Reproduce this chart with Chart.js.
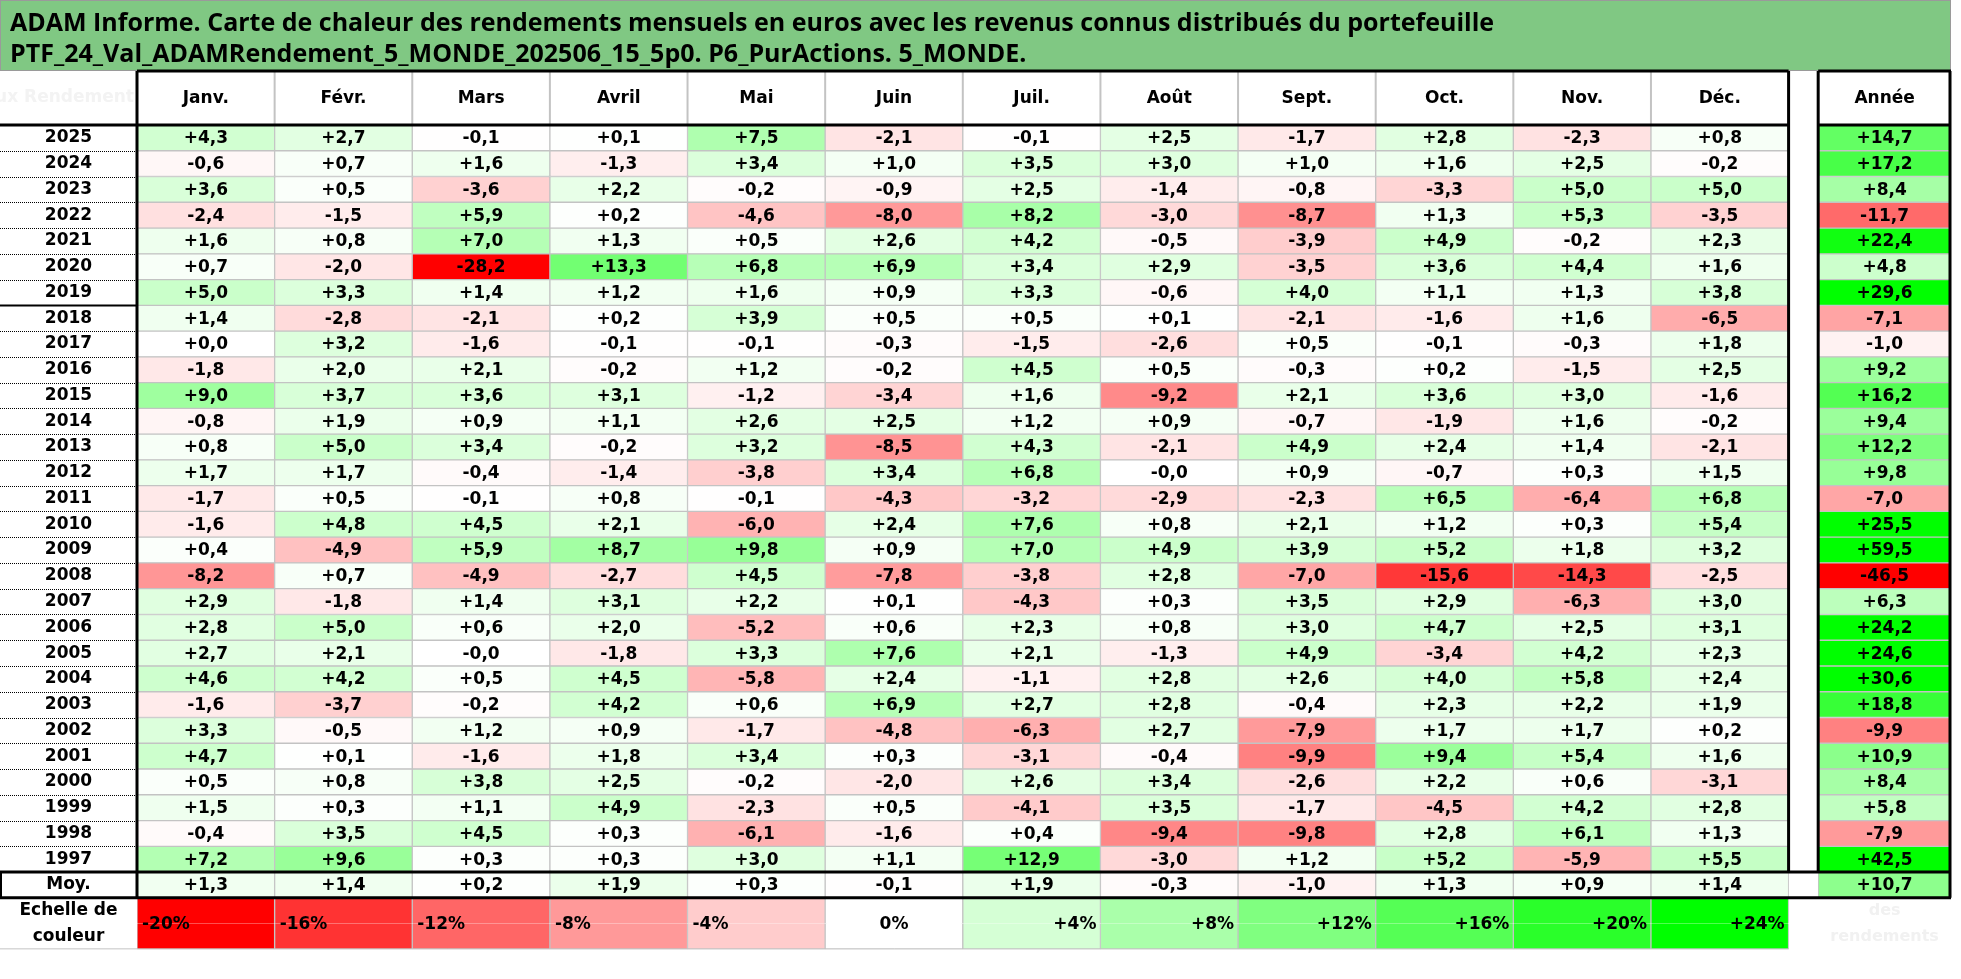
<!DOCTYPE html>
<html><head><meta charset="utf-8">
<script src="https://cdn.jsdelivr.net/npm/chart.js@4.4.0/dist/chart.umd.min.js"></script>
<style>html,body{margin:0;padding:0;background:#fff;overflow:hidden}canvas{display:block}</style>
</head><body>
<canvas id="c" width="1961" height="979" style="width:1961px;height:979px"></canvas>
<script>
// ---------------- DATA ----------------
const titleLines = [
  'ADAM Informe. Carte de chaleur des rendements mensuels en euros avec les revenus connus distribués du portefeuille',
  'PTF_24_Val_ADAMRendement_5_MONDE_202506_15_5p0. P6_PurActions. 5_MONDE.'
];
const months = ['Janv.', 'Févr.', 'Mars', 'Avril', 'Mai', 'Juin', 'Juil.', 'Août', 'Sept.', 'Oct.', 'Nov.', 'Déc.'];
const yearHeader = 'Année';
const years = ['2025','2024','2023','2022','2021','2020','2019','2018','2017','2016','2015','2014','2013','2012','2011','2010','2009','2008','2007','2006','2005','2004','2003','2002','2001','2000','1999','1998','1997'];
const monthlyReturns = [
  [ 4.3,  2.7, -0.1,  0.1,  7.5, -2.1, -0.1,  2.5, -1.7,  2.8, -2.3,  0.8],
  [-0.6,  0.7,  1.6, -1.3,  3.4,  1.0,  3.5,  3.0,  1.0,  1.6,  2.5, -0.2],
  [ 3.6,  0.5, -3.6,  2.2, -0.2, -0.9,  2.5, -1.4, -0.8, -3.3,  5.0,  5.0],
  [-2.4, -1.5,  5.9,  0.2, -4.6, -8.0,  8.2, -3.0, -8.7,  1.3,  5.3, -3.5],
  [ 1.6,  0.8,  7.0,  1.3,  0.5,  2.6,  4.2, -0.5, -3.9,  4.9, -0.2,  2.3],
  [ 0.7, -2.0,-28.2, 13.3,  6.8,  6.9,  3.4,  2.9, -3.5,  3.6,  4.4,  1.6],
  [ 5.0,  3.3,  1.4,  1.2,  1.6,  0.9,  3.3, -0.6,  4.0,  1.1,  1.3,  3.8],
  [ 1.4, -2.8, -2.1,  0.2,  3.9,  0.5,  0.5,  0.1, -2.1, -1.6,  1.6, -6.5],
  [ 0.0,  3.2, -1.6, -0.1, -0.1, -0.3, -1.5, -2.6,  0.5, -0.1, -0.3,  1.8],
  [-1.8,  2.0,  2.1, -0.2,  1.2, -0.2,  4.5,  0.5, -0.3,  0.2, -1.5,  2.5],
  [ 9.0,  3.7,  3.6,  3.1, -1.2, -3.4,  1.6, -9.2,  2.1,  3.6,  3.0, -1.6],
  [-0.8,  1.9,  0.9,  1.1,  2.6,  2.5,  1.2,  0.9, -0.7, -1.9,  1.6, -0.2],
  [ 0.8,  5.0,  3.4, -0.2,  3.2, -8.5,  4.3, -2.1,  4.9,  2.4,  1.4, -2.1],
  [ 1.7,  1.7, -0.4, -1.4, -3.8,  3.4,  6.8, -0.0,  0.9, -0.7,  0.3,  1.5],
  [-1.7,  0.5, -0.1,  0.8, -0.1, -4.3, -3.2, -2.9, -2.3,  6.5, -6.4,  6.8],
  [-1.6,  4.8,  4.5,  2.1, -6.0,  2.4,  7.6,  0.8,  2.1,  1.2,  0.3,  5.4],
  [ 0.4, -4.9,  5.9,  8.7,  9.8,  0.9,  7.0,  4.9,  3.9,  5.2,  1.8,  3.2],
  [-8.2,  0.7, -4.9, -2.7,  4.5, -7.8, -3.8,  2.8, -7.0,-15.6,-14.3, -2.5],
  [ 2.9, -1.8,  1.4,  3.1,  2.2,  0.1, -4.3,  0.3,  3.5,  2.9, -6.3,  3.0],
  [ 2.8,  5.0,  0.6,  2.0, -5.2,  0.6,  2.3,  0.8,  3.0,  4.7,  2.5,  3.1],
  [ 2.7,  2.1, -0.0, -1.8,  3.3,  7.6,  2.1, -1.3,  4.9, -3.4,  4.2,  2.3],
  [ 4.6,  4.2,  0.5,  4.5, -5.8,  2.4, -1.1,  2.8,  2.6,  4.0,  5.8,  2.4],
  [-1.6, -3.7, -0.2,  4.2,  0.6,  6.9,  2.7,  2.8, -0.4,  2.3,  2.2,  1.9],
  [ 3.3, -0.5,  1.2,  0.9, -1.7, -4.8, -6.3,  2.7, -7.9,  1.7,  1.7,  0.2],
  [ 4.7,  0.1, -1.6,  1.8,  3.4,  0.3, -3.1, -0.4, -9.9,  9.4,  5.4,  1.6],
  [ 0.5,  0.8,  3.8,  2.5, -0.2, -2.0,  2.6,  3.4, -2.6,  2.2,  0.6, -3.1],
  [ 1.5,  0.3,  1.1,  4.9, -2.3,  0.5, -4.1,  3.5, -1.7, -4.5,  4.2,  2.8],
  [-0.4,  3.5,  4.5,  0.3, -6.1, -1.6,  0.4, -9.4, -9.8,  2.8,  6.1,  1.3],
  [ 7.2,  9.6,  0.3,  0.3,  3.0,  1.1, 12.9, -3.0,  1.2,  5.2, -5.9,  5.5]
];
const annualReturns = [14.7, 17.2, 8.4, -11.7, 22.4, 4.8, 29.6, -7.1, -1.0, 9.2, 16.2, 9.4, 12.2, 9.8, -7.0, 25.5, 59.5, -46.5, 6.3, 24.2, 24.6, 30.6, 18.8, -9.9, 10.9, 8.4, 5.8, -7.9, 42.5];
const averageLabel = 'Moy.';
const averageMonthly = [1.3, 1.4, 0.2, 1.9, 0.3, -0.1, 1.9, -0.3, -1.0, 1.3, 0.9, 1.4];
const averageAnnual = 10.7;
const scaleLabelLines = ['Echelle de', 'couleur'];
const scaleSteps = [-20, -16, -12, -8, -4, 0, 4, 8, 12, 16, 20, 24];
const cornerText = 'Taux Rendement';
const footText = ['des', 'rendements'];

// ---------------- LAYOUT / STYLE ----------------
const TITLE_H = 71;
const HEADER_H = 54;
const YCOL_W = 137;
const ANNEE_X0 = 12.215, ANNEE_X1 = 13.18;
const TITLE_FONT = '"Open Sans", "Liberation Sans", sans-serif';
const FONT = '"DejaVu Sans", "Open Sans", sans-serif';
const CELL_PX = 17;
const GRAY = '#c3c3c3';

Chart.defaults.font.family = FONT;

const minScale = scaleSteps[0], maxScale = scaleSteps[scaleSteps.length - 1];
function heatColor(v) {
  if (v < 0) {
    const t = Math.min(1, v / minScale);
    const c = Math.round(255 * (1 - t));
    return `rgb(255,${c},${c})`;
  }
  const t = Math.min(1, v / maxScale);
  const c = Math.round(255 * (1 - t));
  return `rgb(${c},255,${c})`;
}
function fmt(v) {
  const neg = v < 0 || Object.is(v, -0);
  return (neg ? '-' : '+') + Math.abs(v).toFixed(1).replace('.', ',');
}
function fmtPct(v) { return (v > 0 ? '+' : '') + v + '%'; }

const rowLabels = years.concat([averageLabel], scaleLabelLines);
const headerLabels = months.concat([yearHeader]);
const headerPositions = months.map((m, i) => i + 0.5).concat([(ANNEE_X0 + ANNEE_X1) / 2]);

const cellData = [];
years.forEach((yr, r) => monthlyReturns[r].forEach((v, m) => cellData.push({ y: yr, x: [m, m + 1], v })));
const annualData = years.map((yr, r) => ({ y: yr, x: [ANNEE_X0, ANNEE_X1], v: annualReturns[r] }));
const avgData = averageMonthly.map((v, m) => ({ y: averageLabel, x: [m, m + 1], v }))
  .concat([{ y: averageLabel, x: [ANNEE_X0, ANNEE_X1], v: averageAnnual }]);
const scaleTop = scaleSteps.map((v, m) => ({ y: scaleLabelLines[0], x: [m, m + 1], v }));
const scaleBottom = scaleSteps.map((v, m) => ({ y: scaleLabelLines[1], x: [m, m + 1], v }));

const meas = document.createElement('canvas').getContext('2d');
meas.font = 'bold ' + CELL_PX + 'px ' + FONT;
const widestRow = Math.max(...rowLabels.map(l => meas.measureText(l).width));
const yPad = Math.max(0, YCOL_W / 2 - widestRow / 2);

const common = {
  barPercentage: 1, categoryPercentage: 1, grouped: false, borderSkipped: false,
  borderColor: GRAY, borderWidth: 1,
  backgroundColor: c => heatColor(c.raw.v)
};

const tablePlugin = {
  id: 'tableDecor',
  beforeDraw(chart) {
    const { ctx, width, height } = chart;
    const right = chart.scales.x.right;
    ctx.save();
    ctx.fillStyle = '#fff';
    ctx.fillRect(0, 0, width, height);
    ctx.fillStyle = '#80c883';
    ctx.fillRect(0, 0, right, TITLE_H);
    ctx.strokeStyle = '#9a9a9a';
    ctx.lineWidth = 1;
    ctx.strokeRect(0.5, 0.5, right - 1, TITLE_H - 1);
    ctx.fillStyle = '#000';
    ctx.font = 'bold 25px ' + TITLE_FONT;
    ctx.textBaseline = 'middle';
    ctx.textAlign = 'left';
    titleLines.forEach((t, i) => ctx.fillText(t, 10, 24 + i * 31));
    ctx.restore();
  },
  afterDatasetsDraw(chart) {
    const { ctx, chartArea: ca, scales: { x } } = chart;
    const slot = (ca.bottom - ca.top) / rowLabels.length;
    const edge = i => ca.top + i * slot;
    const line = (x1, y1, x2, y2, w, col, dash) => {
      ctx.save();
      ctx.beginPath();
      ctx.strokeStyle = col; ctx.lineWidth = w;
      if (dash) ctx.setLineDash(dash);
      ctx.moveTo(x1, y1); ctx.lineTo(x2, y2); ctx.stroke();
      ctx.restore();
    };
    // cell texts
    ctx.save();
    ctx.fillStyle = '#000';
    ctx.textBaseline = 'middle';
    chart.data.datasets.forEach((ds, di) => {
      if (ds.textMode === 'none') return;
      const meta = chart.getDatasetMeta(di);
      meta.data.forEach((el, j) => {
        const raw = ds.data[j];
        const p = el.getProps(['x', 'y', 'base', 'height'], true);
        ctx.font = 'bold ' + CELL_PX + 'px ' + FONT;
        if (ds.textMode === 'scale') {
          const cy = p.y + p.height / 2 + 1;
          if (raw.v < 0) { ctx.textAlign = 'left'; ctx.fillText(fmtPct(raw.v), p.base + 5, cy); }
          else if (raw.v === 0) { ctx.textAlign = 'center'; ctx.fillText(fmtPct(raw.v), (p.x + p.base) / 2, cy); }
          else { ctx.textAlign = 'right'; ctx.fillText(fmtPct(raw.v), p.x - 4, cy); }
        } else {
          ctx.textAlign = 'center';
          ctx.fillText(fmt(raw.v), (p.x + p.base) / 2, p.y + 1);
        }
      });
    });
    ctx.restore();

    const xL = ca.left, xD = x.getPixelForValue(12);
    const xA0 = x.getPixelForValue(ANNEE_X0), xA1 = x.getPixelForValue(ANNEE_X1);
    const yH0 = TITLE_H, yH1 = ca.top;
    const yMoyTop = edge(years.length), yMoyBot = edge(years.length + 1);

    // faint texts
    ctx.save();
    ctx.fillStyle = '#f3f3f3';
    ctx.font = 'bold ' + CELL_PX + 'px ' + FONT;
    ctx.textBaseline = 'middle';
    ctx.beginPath(); ctx.rect(0, yH0, xL - 2, yH1 - yH0); ctx.clip();
    ctx.textAlign = 'right';
    ctx.fillText(cornerText, xL - 3, (yH0 + yH1) / 2);
    ctx.restore();
    ctx.save();
    ctx.fillStyle = '#f1f1f1';
    ctx.font = 'bold 16px ' + FONT;
    ctx.textBaseline = 'middle';
    ctx.textAlign = 'center';
    footText.forEach((t, i) => ctx.fillText(t, (xA0 + xA1) / 2, edge(years.length + 1 + i) + slot / 2));
    ctx.restore();

    // header gray separators
    for (let m = 1; m < 12; m++) {
      const px = x.getPixelForValue(m);
      line(px, yH0, px, yH1, 2, GRAY);
    }
    // year column dotted separators
    for (let i = 1; i < years.length; i++) {
      const yy = Math.round(edge(i)) + 0.5;
      if (years[i - 1] === '2019') line(0, yy, xL, yy, 2, '#000');
      else line(0, yy, xL, yy, 1, '#000', [1, 1]);
    }
    // bottom gray line
    line(0, ca.bottom - 0.5, xD, ca.bottom - 0.5, 1, GRAY);

    // thick black frame
    const K = '#000', W = 3;
    line(xL, yH0, xD, yH0, W, K);
    line(xA0, yH0, xA1, yH0, W, K);
    line(0, yH1, xD, yH1, W, K);
    line(xA0, yH1, xA1, yH1, W, K);
    line(xL, yH0, xL, yMoyBot, W, K);
    line(xD, yH0, xD, yMoyTop, W, K);
    line(xA0, yH0, xA0, yMoyTop, W, K);
    line(xA1 - 1, yH0, xA1 - 1, yMoyBot, W, K);
    line(0, yMoyTop, xA1, yMoyTop, W, K);
    line(0, yMoyBot, xA1, yMoyBot, W, K);
    line(1, yMoyTop, 1, yMoyBot, 2, K);
  }
};

new Chart(document.getElementById('c'), {
  type: 'bar',
  data: {
    labels: rowLabels,
    datasets: [
      Object.assign({ data: cellData, textMode: 'cell' }, common),
      Object.assign({ data: annualData, textMode: 'cell' }, common),
      Object.assign({ data: avgData, textMode: 'cell' }, common),
      Object.assign({ data: scaleTop, textMode: 'scale' }, common, { borderWidth: { left: 1, right: 1, top: 0, bottom: 0 } }),
      Object.assign({ data: scaleBottom, textMode: 'none' }, common, { borderWidth: { left: 1, right: 1, top: 0, bottom: 1 } })
    ]
  },
  options: {
    indexAxis: 'y',
    responsive: false,
    devicePixelRatio: 1,
    animation: false,
    events: [],
    layout: { padding: { top: TITLE_H, left: 0, right: 10, bottom: 1 } },
    plugins: { legend: { display: false }, tooltip: { enabled: false }, title: { display: false } },
    scales: {
      x: {
        type: 'linear', position: 'top', min: 0, max: ANNEE_X1,
        afterBuildTicks: s => { s.ticks = headerPositions.map(v => ({ value: v })); },
        afterFit: s => { s.height = HEADER_H; },
        ticks: {
          callback: (v, i) => headerLabels[i],
          font: { size: CELL_PX, weight: 'bold' }, color: '#000', padding: 16,
          maxRotation: 0, autoSkip: false
        },
        grid: { display: false, drawTicks: false }, border: { display: false }
      },
      y: {
        type: 'category', position: 'left', offset: true,
        afterFit: s => { s.width = YCOL_W; },
        ticks: {
          font: { size: CELL_PX, weight: 'bold' }, color: '#000', padding: yPad,
          crossAlign: 'center', autoSkip: false
        },
        grid: { display: false, drawTicks: false }, border: { display: false }
      }
    }
  },
  plugins: [tablePlugin]
});
</script>
</body></html>
